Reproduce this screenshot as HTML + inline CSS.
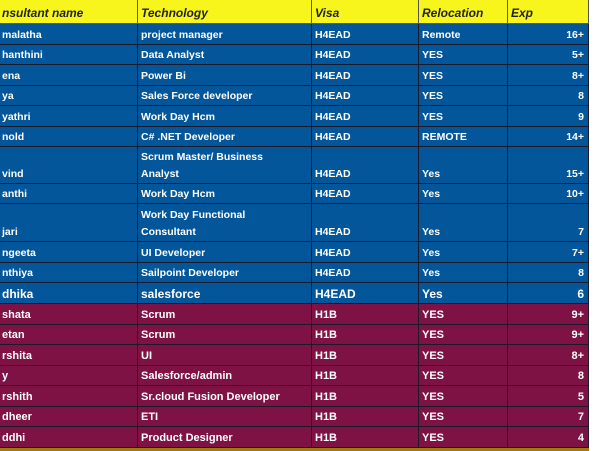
<!DOCTYPE html>
<html><head><style>
html,body{margin:0;width:600px;height:450px;overflow:hidden;background:#fff;font-family:"Liberation Sans",sans-serif;}
.c{position:absolute;box-sizing:border-box;border-right:1px solid #1a1a2a;border-bottom:1px solid #1a1a2a;display:flex;align-items:flex-end;padding:0 4px 0 3px;font-weight:bold;font-size:10.5px;line-height:17px;color:#fff;white-space:nowrap;overflow:hidden;}
.c.r{justify-content:flex-end;text-align:right;}
.h{background:#f7f51c;color:#222;font-style:italic;font-size:12px;padding-bottom:1px;border-color:#555;}
.b{background:#04569a;}
.m{background:#7e1244;font-size:11px;}
.big{font-size:12px;}
.g{background:#a07a10;border:none;}
</style></head><body>
<div id="t"></div>
<script>
var xs=[-1,138,312,419,508,589];
var rows=[
["h",0,24,["nsultant name","Technology","Visa","Relocation","Exp"]],
["b",24,44.5,["malatha","project manager","H4EAD","Remote","16+"]],
["b",44.5,65,["hanthini","Data Analyst","H4EAD","YES","5+"]],
["b",65,85.5,["ena","Power Bi","H4EAD","YES","8+"]],
["b",85.5,106,["ya","Sales Force developer","H4EAD","YES","8"]],
["b",106,126.5,["yathri","Work Day Hcm","H4EAD","YES","9"]],
["b",126.5,147,["nold","C# .NET Developer","H4EAD","REMOTE","14+"]],
["b",147,183.5,["vind","Scrum Master/ Business<br>Analyst","H4EAD","Yes","15+"]],
["b",183.5,204,["anthi","Work Day Hcm","H4EAD","Yes","10+"]],
["b",204,242,["jari","Work Day Functional<br>Consultant","H4EAD","Yes","7"]],
["b",242,262.5,["ngeeta","UI Developer","H4EAD","Yes","7+"]],
["b",262.5,283,["nthiya","Sailpoint Developer","H4EAD","Yes","8"]],
["b big",283,304,["dhika","salesforce","H4EAD","Yes","6"]],
["m",304,324.5,["shata","Scrum","H1B","YES","9+"]],
["m",324.5,345,["etan","Scrum","H1B","YES","9+"]],
["m",345,365.5,["rshita","UI","H1B","YES","8+"]],
["m",365.5,386,["y","Salesforce/admin","H1B","YES","8"]],
["m",386,406.5,["rshith","Sr.cloud Fusion Developer","H1B","YES","5"]],
["m",406.5,427,["dheer","ETI","H1B","YES","7"]],
["m",427,447.5,["ddhi","Product Designer","H1B","YES","4"]]
];
var h="";
rows.forEach(function(r){for(var i=0;i<5;i++){var cls="c "+r[0]+(i==4&&r[0]!="h"?" r":"");
h+='<div class="'+cls+'" style="left:'+xs[i]+'px;top:'+r[1]+'px;width:'+(xs[i+1]-xs[i])+'px;height:'+(r[2]-r[1])+'px"><span>'+r[3][i]+'</span></div>';}});
h+='<div class="c g" style="left:0;top:447.5px;width:589px;height:3px"></div>';
document.getElementById("t").innerHTML=h;
</script>
</body></html>
